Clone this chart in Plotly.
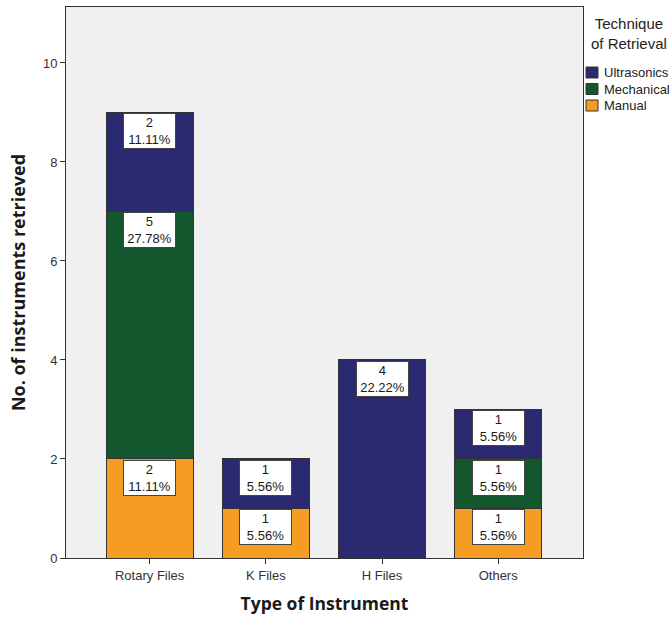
import plotly.graph_objects as go

# Counts of retrieved instruments by type and retrieval technique
instrument_types = ["Rotary Files", "K Files", "H Files", "Others"]
manual = [2, 1, 0, 1]
mechanical = [5, 0, 0, 1]
ultrasonics = [2, 1, 4, 1]

series_names = ["Manual", "Mechanical", "Ultrasonics"]
series_values = [manual, mechanical, ultrasonics]
series_colors = ["#f59c22", "#14562e", "#2b2a70"]

legend_title = "Technique<br>of Retrieval"

total = sum(sum(v) for v in series_values)
label_font = "Liberation Sans, Arial"

fig = go.Figure()
for name, vals, color in zip(series_names, series_values, series_colors):
    fig.add_trace(go.Bar(
        x=instrument_types, y=vals, name=name,
        marker=dict(color=color, line=dict(color="#333333", width=1)),
        hoverinfo="skip",
    ))

# Count / percentage boxes at the top of each segment
annotations = []
base = [0] * len(instrument_types)
for vals in series_values:
    for i, v in enumerate(vals):
        if v > 0:
            top = base[i] + v
            annotations.append(dict(
                x=instrument_types[i], y=top, xref="x", yref="y",
                text=f"{v}<br>{v / total * 100:.2f}%",
                showarrow=False, yanchor="top", yshift=-1,
                bgcolor="white", bordercolor="#444444", borderwidth=1,
                width=51, height=34, borderpad=0,
                font=dict(family=label_font, size=13, color="#1a1a1a"),
            ))
        base[i] += v

# Legend drawn in the right margin: title, then swatches top-down
# (Ultrasonics first, matching the stacking order from top)
PLOT_L, PLOT_R, PLOT_T, PLOT_B = 66, 583, 7, 558


def px_to_paper(px, py):
    return ((px - PLOT_L) / (PLOT_R - PLOT_L), (PLOT_B - py) / (PLOT_B - PLOT_T))


tx, ty = px_to_paper(629, 13)
annotations.append(dict(
    x=tx, y=ty, xref="paper", yref="paper", xanchor="center", yanchor="top",
    text=legend_title, showarrow=False, align="center",
    font=dict(family=label_font, size=15, color="#222222"),
))

shapes = []
for k, (name, color) in enumerate(zip(series_names[::-1], series_colors[::-1])):
    top_px = 67 + k * 16.5
    x0, y0 = px_to_paper(586, top_px + 11)
    x1, y1 = px_to_paper(598, top_px)
    shapes.append(dict(
        type="rect", xref="paper", yref="paper", x0=x0, x1=x1, y0=y0, y1=y1,
        fillcolor=color, line=dict(color="#333333", width=1),
    ))
    lx, ly = px_to_paper(602, top_px + 5.5)
    annotations.append(dict(
        x=lx, y=ly, xref="paper", yref="paper", xanchor="left", yanchor="middle",
        text=name, showarrow=False,
        font=dict(family=label_font, size=13, color="#222222"),
    ))

fig.update_layout(
    width=671, height=617,
    margin=dict(l=PLOT_L, r=671 - PLOT_R, t=PLOT_T, b=617 - PLOT_B, autoexpand=False),
    barmode="stack", bargap=0.25,
    plot_bgcolor="#f0f0f0", paper_bgcolor="white",
    font=dict(family=label_font, size=12, color="#333333"),
    annotations=annotations,
    shapes=shapes,
    showlegend=False,
    xaxis=dict(
        range=[-0.72, 3.73],
        showline=True, linecolor="#333333", linewidth=1, mirror=True,
        ticks="outside", ticklen=5, tickcolor="#333333",
        tickfont=dict(size=13, color="#333333"),
        title=dict(text="<b>Type of Instrument</b>",
                   font=dict(family="Open Sans", size=17.5, color="#1a1a1a"), standoff=16),
    ),
    yaxis=dict(
        range=[0, 11.13], dtick=2,
        showgrid=False, zeroline=False,
        showline=True, linecolor="#333333", linewidth=1, mirror=True,
        ticks="outside", ticklen=5, tickcolor="#333333",
        tickfont=dict(size=13, color="#333333"),
        title=dict(text="<b>No. of instruments retrieved</b>",
                   font=dict(family="Open Sans", size=18, color="#1a1a1a"), standoff=12),
    ),
)

fig.write_html("out.html")
